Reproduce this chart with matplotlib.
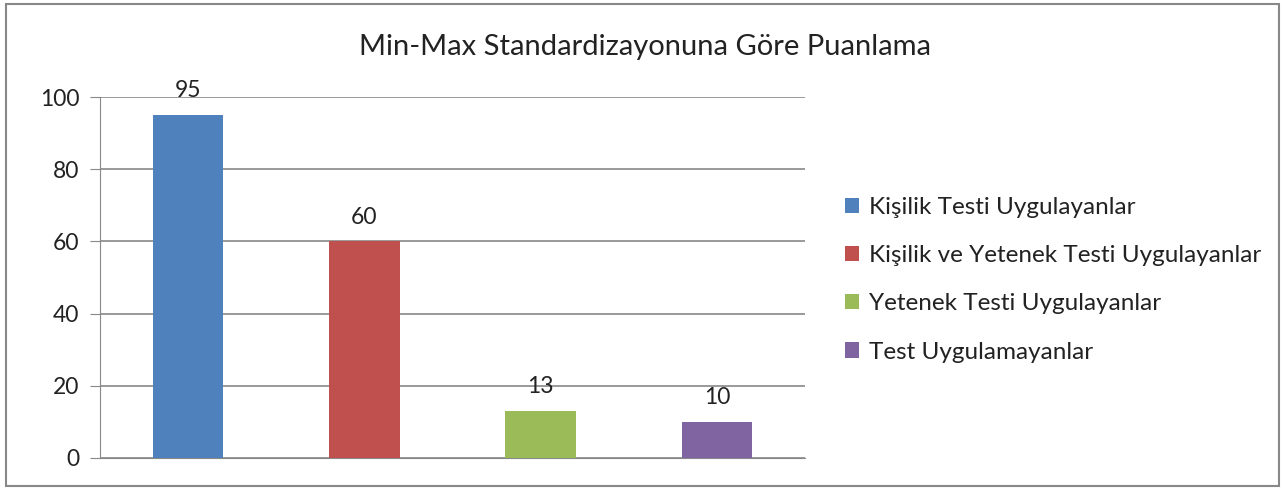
import matplotlib.pyplot as plt
from matplotlib.patches import Rectangle, Patch

plt.rcParams['font.family'] = ['Lato', 'DejaVu Sans']

# data
groups = ["Kişilik Testi Uygulayanlar",
          "Kişilik ve Yetenek Testi Uygulayanlar",
          "Yetenek Testi Uygulayanlar",
          "Test Uygulamayanlar"]
scores = [95, 60, 13, 10]
colors = ["#4F81BD", "#C0504D", "#9BBB59", "#8064A2"]
y_ticks = [0, 20, 40, 60, 80, 100]

fig = plt.figure(figsize=(12.83, 4.88), dpi=100)
ax = fig.add_axes([100 / 1283, 1 - 458 / 488, 705 / 1283, 361 / 488])

x = range(len(scores))
bars = ax.bar(x, scores, width=0.4, color=colors, zorder=3)
ax.bar_label(bars, labels=[str(s) for s in scores], padding=10, fontsize=16.5, color="#222222")

ax.set_xlim(-0.5, len(scores) - 0.5)
ax.set_ylim(0, 100)
ax.set_yticks(y_ticks)
ax.set_xticks([])
ax.tick_params(axis='y', length=7, color="#888888", labelsize=16.5, labelcolor="#222222", pad=8)
ax.grid(axis='y', color="#888888", linewidth=1.2, zorder=0)
for side in ['top', 'right']:
    ax.spines[side].set_visible(False)
ax.spines['left'].set_color("#888888")
ax.spines['bottom'].set_color("#888888")

fig.suptitle("Min-Max Standardizayonuna Göre Puanlama", x=645 / 1283, y=1 - 47 / 488,
             va='center', fontsize=21, color="#222222")

handles = [Patch(facecolor=c, edgecolor='none') for c in colors]
fig.legend(handles, groups, loc='upper left', bbox_to_anchor=(823 / 1283, 1 - 175 / 488),
           frameon=False, fontsize=17.5, handlelength=0.6, handleheight=0.6,
           handletextpad=0.4, labelspacing=1.12, labelcolor="#222222")

# outer chart border
fig.patches.append(Rectangle((6 / 1283, 2 / 488), 1273 / 1283, 482 / 488,
                             transform=fig.transFigure, fill=False,
                             edgecolor="#888888", linewidth=1.5))

fig.savefig("out.png", dpi=100)
